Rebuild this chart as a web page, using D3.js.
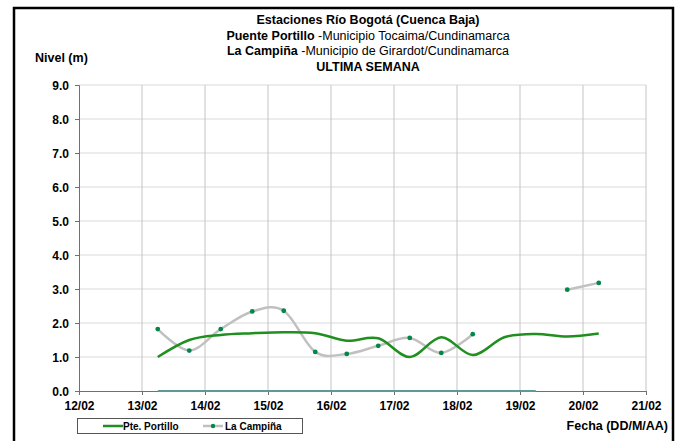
<!DOCTYPE html>
<html><head><meta charset="utf-8">
<script src="https://cdn.jsdelivr.net/npm/d3@7"></script>
<style>
html,body{margin:0;padding:0;background:#fff;}
svg{display:block;font-family:"Liberation Sans",Arial,sans-serif;}
</style></head>
<body>
<svg id="chart" width="681" height="441"></svg>
<script>
// ---- data ----
const dayTicks = [12,13,14,15,16,17,18,19,20,21];
const dayLabels = ["12/02","13/02","14/02","15/02","16/02","17/02","18/02","19/02","20/02","21/02"];
const yTicks = [0,1,2,3,4,5,6,7,8,9];
const times = [13.25,13.75,14.25,14.75,15.25,15.75,16.25,16.75,17.25,17.75,18.25,18.75,19.25,19.75,20.25];
const portillo = [1.00,1.50,1.65,1.70,1.73,1.70,1.48,1.55,1.00,1.58,1.06,1.58,1.68,1.60,1.69];
const campina = [1.82,1.19,1.82,2.34,2.36,1.15,1.09,1.33,1.56,1.12,1.67,null,null,2.98,3.18];
const zeroTimes = [13.25,19.25];
const zeroVals = [0,0];

const svg = d3.select("#chart");
const x = d3.scaleLinear().domain([12,21]).range([79,646]);
const y = d3.scaleLinear().domain([0,9]).range([391,85]);

// outer frame
svg.append("path").attr("d","M14,445 V8 H673 V445").attr("fill","none").attr("stroke","#000").attr("stroke-width",2.5);

// gridlines
svg.append("g").selectAll("line").data(yTicks.slice(1)).join("line")
  .attr("x1",x(12)).attr("x2",x(21)).attr("y1",d=>y(d)).attr("y2",d=>y(d))
  .attr("stroke","#d9d9d9").attr("stroke-width",1);
svg.append("g").selectAll("line").data(dayTicks.slice(1)).join("line")
  .attr("x1",d=>x(d)).attr("x2",d=>x(d)).attr("y1",y(0)).attr("y2",y(9))
  .attr("stroke","#c4c4c4").attr("stroke-width",1);

// axes
const yAxis = d3.axisLeft(y).tickValues(yTicks).tickFormat(d3.format(".1f")).tickSize(4).tickPadding(6);
const gy = svg.append("g").attr("transform",`translate(${x(12)},0)`).call(yAxis);
const xAxis = d3.axisBottom(x).tickValues(dayTicks).tickFormat((d,i)=>dayLabels[i]).tickSize(4).tickPadding(6);
const gx = svg.append("g").attr("transform",`translate(0,${y(0)})`).call(xAxis);
[gx,gy].forEach(g=>{
  g.select(".domain").attr("stroke","#707070");
  g.selectAll(".tick line").attr("stroke","#707070");
  g.selectAll("text").attr("fill","#000").style("font-size","12px").style("font-weight","bold")
   .style("font-family","'Liberation Sans',Arial,sans-serif");
});
gy.selectAll("text").attr("dy","0.35em");

// zero series
svg.append("path").datum(zeroTimes.map((t,i)=>[t,zeroVals[i]]))
  .attr("d",d3.line().x(d=>x(d[0])).y(d=>y(d[1])))
  .attr("stroke","#5f9898").attr("stroke-width",2).attr("fill","none");

// series
const curve = d3.curveCatmullRom.alpha(0);
const campData = times.map((t,i)=>[t,campina[i]]);
svg.append("path").datum(campData)
  .attr("d",d3.line().defined(d=>d[1]!==null).curve(curve).x(d=>x(d[0])).y(d=>y(d[1])))
  .attr("stroke","#c0c0c0").attr("stroke-width",2.5).attr("fill","none");
const portData = times.map((t,i)=>[t,portillo[i]]);
svg.append("path").datum(portData)
  .attr("d",d3.line().curve(curve).x(d=>x(d[0])).y(d=>y(d[1])))
  .attr("stroke","#1f8f1f").attr("stroke-width",2.5).attr("fill","none");
svg.append("g").selectAll("circle").data(campData.filter(d=>d[1]!==null)).join("circle")
  .attr("cx",d=>x(d[0])).attr("cy",d=>y(d[1])).attr("r",2.4).attr("fill","#008848");

// titles
const tg = svg.append("g").attr("text-anchor","middle").style("font-size","12.5px").attr("fill","#000");
tg.append("text").attr("x",368).attr("y",24).style("font-weight","bold").text("Estaciones Río Bogotá (Cuenca Baja)");
const t2 = tg.append("text").attr("x",368).attr("y",40);
t2.append("tspan").style("font-weight","bold").text("Puente Portillo");
t2.append("tspan").text(" -Municipio Tocaima/Cundinamarca");
const t3 = tg.append("text").attr("x",368).attr("y",55);
t3.append("tspan").style("font-weight","bold").text("La Campiña");
t3.append("tspan").text(" -Municipio de Girardot/Cundinamarca");
tg.append("text").attr("x",368).attr("y",71).style("font-weight","bold").text("ULTIMA SEMANA");

svg.append("text").attr("x",35).attr("y",62).style("font-size","12.5px").style("font-weight","bold").text("Nivel (m)");
svg.append("text").attr("x",668).attr("y",430).attr("text-anchor","end").style("font-size","12.5px").style("font-weight","bold").text("Fecha (DD/M/AA)");

// legend
const lg = svg.append("g");
lg.append("rect").attr("x",77.5).attr("y",418.5).attr("width",225).attr("height",15).attr("fill","#fff").attr("stroke","#555").attr("stroke-width",1);
lg.append("line").attr("x1",103).attr("x2",123).attr("y1",426).attr("y2",426).attr("stroke","#1f8f1f").attr("stroke-width",2.5);
lg.append("text").attr("x",123).attr("y",430).style("font-size","10px").style("font-weight","bold").text("Pte. Portillo");
lg.append("line").attr("x1",203).attr("x2",223).attr("y1",426).attr("y2",426).attr("stroke","#c0c0c0").attr("stroke-width",2.5);
lg.append("circle").attr("cx",213).attr("cy",426).attr("r",2.2).attr("fill","#008848");
lg.append("text").attr("x",225).attr("y",430).style("font-size","10px").style("font-weight","bold").text("La Campiña");
</script>
</body></html>
